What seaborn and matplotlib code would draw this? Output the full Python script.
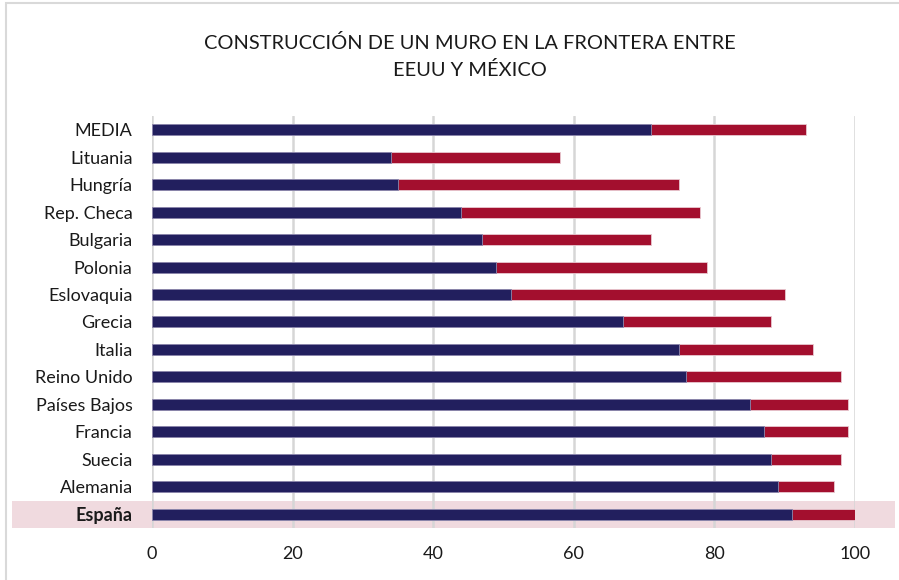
import matplotlib
matplotlib.use("Agg")
import matplotlib.pyplot as plt
import matplotlib.patches as mpatches
import matplotlib.transforms as mtransforms
import pandas as pd
import seaborn as sns

# Datos (porcentaje)
paises = ['MEDIA', 'Lituania', 'Hungría', 'Rep. Checa', 'Bulgaria', 'Polonia',
          'Eslovaquia', 'Grecia', 'Italia', 'Reino Unido', 'Países Bajos',
          'Francia', 'Suecia', 'Alemania', 'España']
en_contra = [71, 34, 35, 44, 47, 49, 51, 67, 75, 76, 85, 87, 88, 89, 91]
a_favor = [22, 24, 40, 34, 24, 30, 39, 21, 19, 22, 14, 12, 10, 8, 9]
ticks_x = [0, 20, 40, 60, 80, 100]

azul = '#221F5E'
rojo = '#A30F2E'

df = pd.DataFrame({'pais': paises, 'en_contra': en_contra, 'a_favor': a_favor})
df['total'] = df['en_contra'] + df['a_favor']

sns.set_style("white")
plt.rcParams['font.family'] = ['Lato', 'DejaVu Sans']

fig = plt.figure(figsize=(8.99, 5.8), dpi=100)
ax = fig.add_axes([0.1691, 0.0897, 0.782, 0.7103])

# Barra total (roja) detrás y la parte azul delante
sns.barplot(data=df, y='pais', x='total', color=rojo, orient='h', width=0.4,
            edgecolor='#E8C8D0', linewidth=0.6, saturation=1, ax=ax, zorder=3)
sns.barplot(data=df, y='pais', x='en_contra', color=azul, orient='h', width=0.4,
            edgecolor='#8C8AB0', linewidth=0.6, saturation=1, ax=ax, zorder=4)

ax.set_xlim(0, 100)
ax.set_ylim(len(paises) - 0.5, -0.5)
ax.set_xticks(ticks_x)
ax.set_xlabel('')
ax.set_ylabel('')
ax.grid(axis='x', color='#D6D6D6', linewidth=1.8)
for s in ax.spines.values():
    s.set_visible(False)
ax.tick_params(axis='both', length=0, labelsize=13, colors='#1a1a1a')
ax.tick_params(axis='x', pad=13)
ax.tick_params(axis='y', pad=14)

# Resaltar España
idx = paises.index('España')
ax.get_yticklabels()[idx].set_fontweight('bold')
trans = mtransforms.blended_transform_factory(fig.transFigure, ax.transData)
banda = mpatches.Rectangle((12 / 899, idx - 0.5), (895 - 12) / 899, 1.0,
                           transform=trans, facecolor='#F0DADF', edgecolor='none',
                           zorder=0.2, clip_on=False)
ax.add_patch(banda)

fig.text(0.523, 0.903, 'CONSTRUCCIÓN DE UN MURO EN LA FRONTERA ENTRE\nEEUU Y MÉXICO',
         ha='center', va='center', fontsize=14.4, color='#1a1a1a', linespacing=1.6)

# Marco del gráfico
marco = mpatches.Rectangle((6 / 899, -0.05), 1.0, 1 - 3 / 580 + 0.05,
                           transform=fig.transFigure, facecolor='none',
                           edgecolor='#D9D9D9', linewidth=1.5)
fig.patches.append(marco)

fig.savefig('out.png', dpi=100)
